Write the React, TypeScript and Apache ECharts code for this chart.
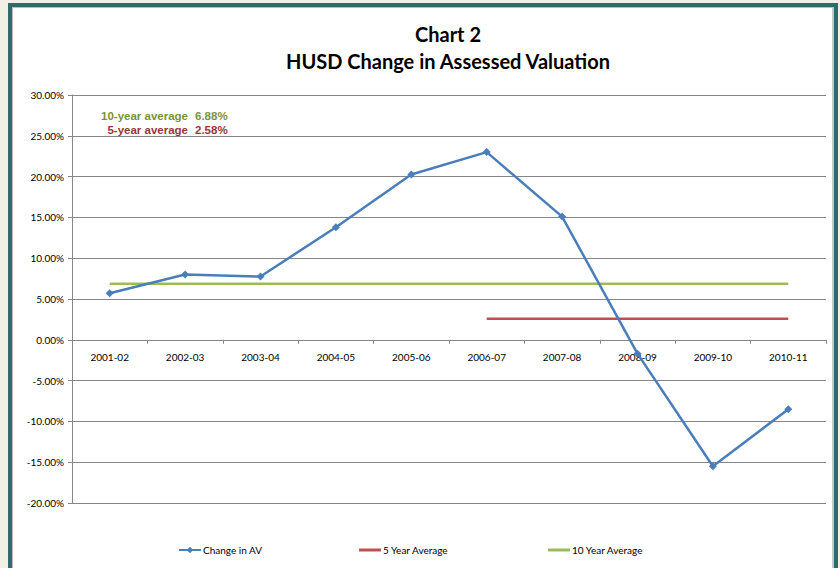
import React, { useEffect, useRef } from "react";
import * as echarts from "echarts";

const categories = ["2001-02", "2002-03", "2003-04", "2004-05", "2005-06", "2006-07", "2007-08", "2008-09", "2009-10", "2010-11"];
const changeInAV = [5.7, 8.0, 7.75, 13.8, 20.25, 23.0, 15.1, -1.7, -15.5, -8.5];
const fiveYearAvg = [null, null, null, null, null, 2.58, 2.58, 2.58, 2.58, 2.58];
const tenYearAvg = [6.88, 6.88, 6.88, 6.88, 6.88, 6.88, 6.88, 6.88, 6.88, 6.88];
const annotationLabels = ["10-year average", "5-year average"];
const annotationValues = ["6.88%", "2.58%"];
const yTicks = { min: -20, max: 30, interval: 5 };

const BLUE = "#4a7ebb";
const RED = "#c0504d";
const GREEN = "#9bbb59";

const GRID = { left: 72, right: 14, top: 95, bottom: 65 };
const H = 568;

export default function App() {
  const ref = useRef<HTMLDivElement>(null);
  useEffect(() => {
    if (!ref.current) return;
    const chart = echarts.init(ref.current, null, { renderer: "svg" });
    const font = "Lato, 'Open Sans', sans-serif";
    const plotH = H - GRID.top - GRID.bottom;
    const zeroOffset = (plotH * (0 - yTicks.min)) / (yTicks.max - yTicks.min);
    const legendBase = {
      top: 544,
      itemWidth: 22,
      itemHeight: 8,
      itemGap: 0,
      textStyle: { fontFamily: font, fontSize: 10, color: "#000", padding: [0, 0, 0, -3], lineHeight: 12 },
      padding: 0,
    };
    const annFont = "bold 11.5px 'Liberation Sans', Arial, sans-serif";
    chart.setOption({
      animation: false,
      backgroundColor: "transparent",
      title: {
        text: "Chart 2\nHUSD Change in Assessed Valuation",
        left: 443,
        top: 15,
        textAlign: "center",
        textStyle: { fontFamily: font, fontSize: 20, fontWeight: "bold", color: "#000", lineHeight: 27 },
      },
      grid: GRID,
      xAxis: {
        type: "category",
        data: categories,
        boundaryGap: true,
        offset: -zeroOffset,
        axisLine: { onZero: false, lineStyle: { color: "#868686", width: 1 } },
        axisTick: { show: true, length: 4, inside: false, lineStyle: { color: "#868686" } },
        axisLabel: { fontFamily: font, fontSize: 10, color: "#000", margin: 12 },
        splitLine: { show: false },
      },
      yAxis: {
        type: "value",
        min: yTicks.min,
        max: yTicks.max,
        interval: yTicks.interval,
        axisLine: { show: true, lineStyle: { color: "#868686", width: 1 } },
        axisTick: { show: true, length: 4, lineStyle: { color: "#868686" } },
        axisLabel: {
          fontFamily: font,
          fontSize: 10,
          color: "#000",
          margin: 8,
          formatter: (v: number) => v.toFixed(2) + "%",
        },
        splitLine: { show: true, lineStyle: { color: "#868686", width: 1 } },
      },
      legend: [
        { ...legendBase, left: 178, data: [{ name: "Change in AV" }] },
        { ...legendBase, left: 359, itemHeight: 3, data: [{ name: "5 Year Average", icon: "rect" }] },
        { ...legendBase, left: 548, itemHeight: 3, data: [{ name: "10 Year Average", icon: "rect" }] },
      ],
      graphic: [
        { type: "text", x: 188, y: 110, style: { text: annotationLabels[0], textAlign: "right", fill: "#77933c", font: annFont } },
        { type: "text", x: 195, y: 110, style: { text: annotationValues[0], textAlign: "left", fill: "#77933c", font: annFont } },
        { type: "text", x: 188, y: 124, style: { text: annotationLabels[1], textAlign: "right", fill: "#953735", font: annFont } },
        { type: "text", x: 195, y: 124, style: { text: annotationValues[1], textAlign: "left", fill: "#953735", font: annFont } },
      ],
      series: [
        {
          name: "10 Year Average",
          type: "line",
          data: tenYearAvg,
          symbol: "none",
          lineStyle: { color: GREEN, width: 2.5 },
          itemStyle: { color: GREEN },
          z: 2,
        },
        {
          name: "5 Year Average",
          type: "line",
          data: fiveYearAvg,
          symbol: "none",
          lineStyle: { color: RED, width: 2.5 },
          itemStyle: { color: RED },
          z: 2,
        },
        {
          name: "Change in AV",
          type: "line",
          data: changeInAV,
          symbol: "diamond",
          symbolSize: 8,
          showSymbol: true,
          lineStyle: { color: BLUE, width: 2.5 },
          itemStyle: { color: BLUE },
          z: 3,
        },
      ],
    });
    return () => chart.dispose();
  }, []);

  return (
    <div style={{ position: "fixed", left: 0, top: 0, width: 840, height: 568, background: "#f1f0e4", overflow: "hidden" }}>
      <div
        style={{
          position: "absolute",
          left: 8,
          top: 3,
          width: 822,
          height: 620,
          border: "4px solid #2f6b6b",
          background: "#ffffff",
          boxShadow: "inset 1px 1px 0 #bdbdbd, inset -2px 0 0 #c8c8c8",
        }}
      />
      <div ref={ref} style={{ position: "absolute", left: 0, top: 0, width: 840, height: 568 }} />
    </div>
  );
}
